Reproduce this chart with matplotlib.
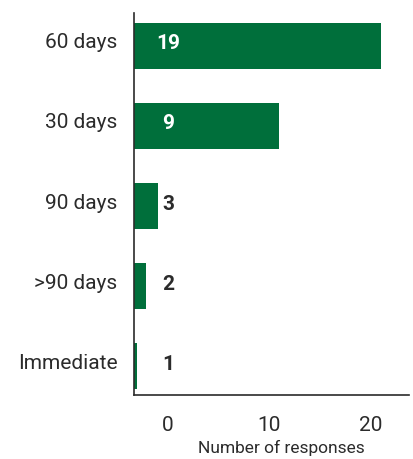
import matplotlib.pyplot as plt
from matplotlib.transforms import ScaledTranslation

categories = ["60 days", "30 days", "90 days", ">90 days", "Immediate"]
counts = [19, 9, 3, 2, 1]
bar_ends = [21.0, 11.0, -1.0, -2.2, -3.1]
x_ticks = [0, 10, 20]

green = "#006f3b"
dark = "#2b2b2b"

plt.rcParams["font.family"] = ["Roboto", "DejaVu Sans"]

fig = plt.figure(figsize=(4.13, 4.59), dpi=100)
ax = fig.add_axes([0.325, 0.139, 0.665, 0.833])

x_min, x_max = -3.33, 23.8
ax.set_xlim(x_min, x_max)
ax.set_ylim(4.36, -0.41)

ys = list(range(len(categories)))
widths = [e - x_min for e in bar_ends]
ax.barh(ys, widths, left=x_min, height=0.575, color=green)

lift = ScaledTranslation(0, 0.02, fig.dpi_scale_trans)
for y, c, e in zip(ys, counts, bar_ends):
    col = "white" if e > 1 else dark
    ax.text(0, y, str(c), ha="center", va="center", color=col,
            fontsize=15, fontweight="bold", transform=ax.transData + lift)

ax.set_yticks(ys)
ax.set_yticklabels(categories)
ax.set_xticks(x_ticks)
ax.tick_params(axis="both", length=0, labelsize=15, colors=dark)
ax.tick_params(axis="y", pad=12)
ax.tick_params(axis="x", pad=15)
for lbl in ax.get_yticklabels():
    lbl.set_transform(lbl.get_transform() + ScaledTranslation(0, 0.05, fig.dpi_scale_trans))

ax.set_xlabel("Number of responses", fontsize=12.5, color=dark, va="center")
ax.xaxis.set_label_coords(0.534, -0.137)

for s in ["top", "right"]:
    ax.spines[s].set_visible(False)
for s in ["left", "bottom"]:
    ax.spines[s].set_color(dark)
    ax.spines[s].set_linewidth(1.2)

fig.savefig("out.png", dpi=100)
